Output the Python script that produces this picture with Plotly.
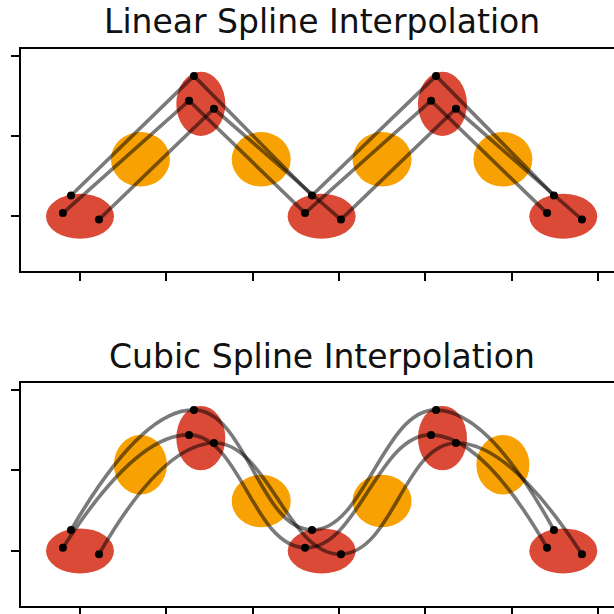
import plotly.graph_objects as go

# ---- data ----
key_x = [0, 7, 14, 21, 28]
key_y = [0, 1.4, 0, 1.4, 0]
key_w = [3.94, 2.84, 3.94, 2.84, 3.94]
key_h = [0.56, 0.80, 0.56, 0.80, 0.56]

mid_x = [3.5, 10.5, 17.5, 24.5]
lin_mid_y = [0.71, 0.71, 0.71, 0.71]
lin_mid_w = [3.42, 3.42, 3.42, 3.42]
lin_mid_h = [0.68, 0.68, 0.68, 0.68]
cub_mid_y = [1.07, 0.62, 0.62, 1.07]
cub_mid_w = [3.07, 3.42, 3.42, 3.07]
cub_mid_h = [0.74, 0.65, 0.65, 0.74]

series_a_x = [-0.52, 6.60, 13.44, 20.63, 27.46]
series_a_y = [0.26, 1.75, 0.26, 1.75, 0.26]
series_b_x = [-0.99, 6.32, 13.04, 20.34, 27.06]
series_b_y = [0.04, 1.44, 0.04, 1.44, 0.04]
series_c_x = [1.10, 7.76, 15.12, 21.78, 29.08]
series_c_y = [-0.04, 1.34, -0.04, 1.34, -0.04]

x_ticks = [0, 5, 10, 15, 20, 25, 30]
y_ticks = [0, 1, 2]
titles = ["Linear Spline Interpolation", "Cubic Spline Interpolation"]

RED = "#db4a37"
ORANGE = "#f8a102"
W, H = 614, 614

fig = go.Figure()
series = [(series_a_x, series_a_y), (series_b_x, series_b_y), (series_c_x, series_c_y)]
panels = [("x", "y", "linear", lin_mid_y, lin_mid_w, lin_mid_h),
          ("x2", "y2", "spline", cub_mid_y, cub_mid_w, cub_mid_h)]

shapes = []
for xr, yr, shape, my, mw, mh in panels:
    for cx, cy, w, h in zip(key_x, key_y, key_w, key_h):
        shapes.append(dict(type="circle", xref=xr, yref=yr, x0=cx - w / 2, x1=cx + w / 2,
                           y0=cy - h / 2, y1=cy + h / 2, fillcolor=RED,
                           line=dict(width=0), layer="below"))
    for cx, cy, w, h in zip(mid_x, my, mw, mh):
        shapes.append(dict(type="circle", xref=xr, yref=yr, x0=cx - w / 2, x1=cx + w / 2,
                           y0=cy - h / 2, y1=cy + h / 2, fillcolor=ORANGE,
                           line=dict(width=0), layer="below"))
    for sx, sy in series:
        fig.add_trace(go.Scatter(x=sx, y=sy, xaxis=xr, yaxis=yr, mode="lines",
                                 line=dict(color="rgba(0,0,0,0.52)", width=3.6, shape=shape,
                                           smoothing=1.3 if shape == "spline" else None),
                                 hoverinfo="skip", showlegend=False))
    for sx, sy in series:
        fig.add_trace(go.Scatter(x=sx, y=sy, xaxis=xr, yaxis=yr, mode="markers",
                                 marker=dict(color="black", size=8),
                                 hoverinfo="skip", showlegend=False))

left_s, right_s = 21, 614
px_per_x = 17.26
xr_range = [(left_s - 80) / px_per_x, (right_s - 80) / px_per_x]
y_range = [-0.683, 2.087]


def ydom(top_s, bot_s):
    return [1 - bot_s / H, 1 - top_s / H]


axis_common = dict(showgrid=False, zeroline=False, showticklabels=False,
                   ticks="outside", ticklen=8, tickwidth=1.6, tickcolor="black",
                   showline=True, linecolor="black", linewidth=2)

xdom = [left_s / W, 1]

fig.update_layout(
    width=W, height=H,
    margin=dict(l=0, r=0, t=0, b=0),
    paper_bgcolor="white", plot_bgcolor="white",
    shapes=shapes,
    xaxis=dict(domain=xdom, range=xr_range, tickvals=x_ticks, mirror=True,
               anchor="y", **axis_common),
    yaxis=dict(domain=ydom(49, 272), range=y_range, tickvals=y_ticks,
               anchor="x", **axis_common),
    xaxis2=dict(domain=xdom, range=xr_range, tickvals=x_ticks, mirror=True,
                anchor="y2", **axis_common),
    yaxis2=dict(domain=ydom(384, 608), range=y_range, tickvals=y_ticks,
                anchor="x2", **axis_common),
    annotations=[
        dict(text=titles[0], x=321.5 / W, y=1 - 22 / H, xref="paper", yref="paper",
             xanchor="center", yanchor="middle", showarrow=False,
             font=dict(family="DejaVu Sans", size=33, color="#111111")),
        dict(text=titles[1], x=321.5 / W, y=1 - 358 / H, xref="paper", yref="paper",
             xanchor="center", yanchor="middle", showarrow=False,
             font=dict(family="DejaVu Sans", size=33, color="#111111")),
    ],
)

fig.write_html("out.html", config={"displayModeBar": False},
               post_script="document.body.style.margin='0';")
